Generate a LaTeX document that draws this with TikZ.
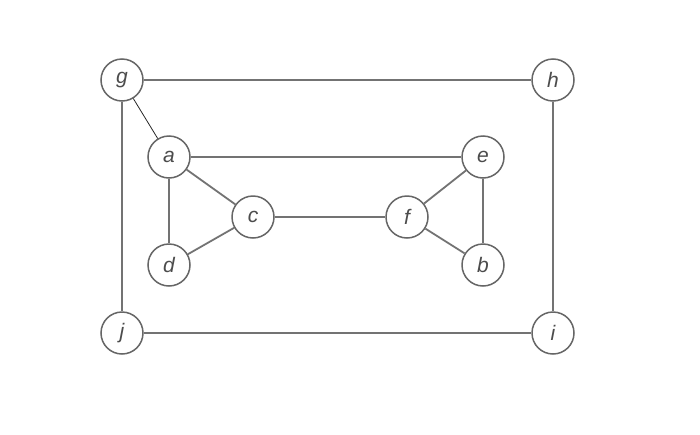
\documentclass[tikz,border=0pt]{standalone}
\usepackage{fontspec}
\setmainfont{Liberation Sans}
\begin{document}
\begin{tikzpicture}[x=1pt,y=-1pt,
  vtx/.style={circle,draw=black!60,line width=1.5pt,fill=white,minimum size=42pt,inner sep=0pt,font=\fontsize{21}{21}\selectfont\itshape,text=black!70},
  edge/.style={draw=black!55,line width=1.8pt},
  thin edge/.style={draw=black!85,line width=0.8pt}]
\useasboundingbox (0,0) rectangle (700,434);
\node[vtx] (g) at (122,80) {g};
\node[vtx] (h) at (553,80) {h};
\node[vtx] (a) at (169,157) {a};
\node[vtx] (e) at (483,157) {e};
\node[vtx] (c) at (253,217) {c};
\node[vtx] (f) at (407,217) {f};
\node[vtx] (d) at (169,265) {d};
\node[vtx] (b) at (483,265) {b};
\node[vtx] (j) at (122,333) {j};
\node[vtx] (i) at (553,333) {i};
\draw[edge] (g) -- (h);
\draw[edge] (g) -- (j);
\draw[edge] (h) -- (i);
\draw[edge] (j) -- (i);
\draw[thin edge] (g) -- (a);
\draw[edge] (a) -- (e);
\draw[edge] (a) -- (c);
\draw[edge] (a) -- (d);
\draw[edge] (d) -- (c);
\draw[edge] (c) -- (f);
\draw[edge] (f) -- (e);
\draw[edge] (f) -- (b);
\draw[edge] (e) -- (b);
\end{tikzpicture}
\end{document}
